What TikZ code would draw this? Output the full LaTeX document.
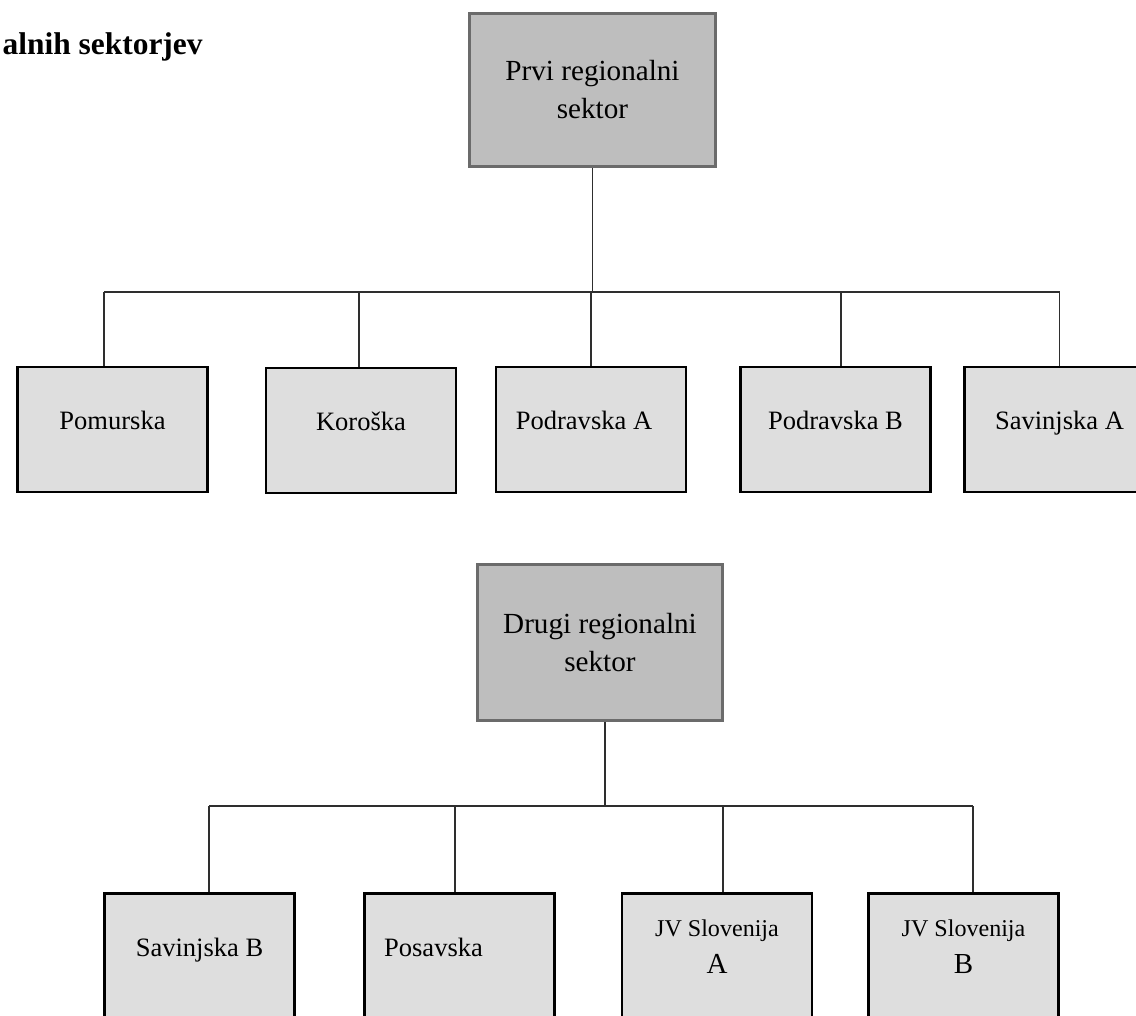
\documentclass[tikz,border=0pt]{standalone}
\usepackage{fontspec}
\setmainfont{Liberation Serif}
\definecolor{sectorfill}{HTML}{BEBEBE}
\definecolor{sectordraw}{HTML}{6B6B6B}
\definecolor{regionfill}{HTML}{DEDEDE}
\definecolor{wire}{HTML}{2E2E2E}
\def\pxu{0.02cm}
\tikzset{
    sector/.style={draw=sectordraw, fill=sectorfill, line width=1.5pt, align=center,
        font={\fontsize{16.6}{21.6}\selectfont}},
    region/.style={draw=black, fill=regionfill, line width=1.5pt,
        minimum width=3.8cm, minimum height=2.5cm,
        text height=0.2cm, text depth=0.2cm, font={\fontsize{15.1}{21}\selectfont}},
    wireline/.style={draw=wire, line width=0.75pt},
}
\begin{document}
\begin{tikzpicture}[x=0.02cm, y=-0.02cm]
    \useasboundingbox (0,0) rectangle (1136,1016);
    \clip (0,0) rectangle (1136,1016);
    \node[anchor=base east, inner sep=0pt, font={\bfseries\fontsize{17.9}{21}\selectfont}] (title) at (203,55) {alnih sektorjev};

    % prvi regionalni sektor
    \node[sector, minimum width=4.92cm, minimum height=3.06cm] (prvi) at (592.5,90) {Prvi regionalni\\sektor};
    \node[region] (pomurska) at (112.5,429.5) {Pomurska};
    \node[region] (koroska) at (361,430.5) {Koroška};
    \node[region] (podravskaA) at (591,429.5) {Podravska A\hspace*{0.28cm}};
    \node[region] (podravskaB) at (835.5,429.5) {Podravska B};
    \node[region] (savinjskaA) at (1059.5,429.5) {Savinjska A};
    \coordinate (bus1) at (592,292);
    \draw[wireline] (prvi.south) -- (prvi.south |- bus1);
    \draw[wireline] ([xshift=-8.5*\pxu]pomurska.north |- bus1) -- (savinjskaA.north |- bus1);
    \foreach \n/\dx in {pomurska/-8.5, koroska/-2, podravskaA/0, podravskaB/5.5, savinjskaA/0}
        \draw[wireline] ([xshift=\dx*\pxu]\n.north) -- ([xshift=\dx*\pxu]\n.north |- bus1);

    % drugi regionalni sektor
    \node[sector, minimum width=4.9cm, minimum height=3.12cm] (drugi) at (600,642.5) {Drugi regionalni\\sektor};
    \node[region] (savinjskaB) at (199.5,956) {Savinjska B};
    \node[region] (posavska) at (459.5,956) {Posavska\hspace*{1.04cm}};
    \node[region, align=center, text height=0.78cm, text depth=0.1cm] (jvA) at (717,956)
        {{\fontsize{13.7}{21}\selectfont JV Slovenija}\\{\fontsize{16.5}{21}\selectfont A}};
    \node[region, align=center, text height=0.78cm, text depth=0.1cm] (jvB) at (963.5,956)
        {{\fontsize{13.7}{21}\selectfont JV Slovenija}\\{\fontsize{16.5}{21}\selectfont B}};
    \coordinate (bus2) at (600,806);
    \draw[wireline] ([xshift=5*\pxu]drugi.south) -- ([xshift=5*\pxu]drugi.south |- bus2);
    \draw[wireline] ([xshift=9.5*\pxu]savinjskaB.north |- bus2) -- ([xshift=9.5*\pxu]jvB.north |- bus2);
    \foreach \n/\dx in {savinjskaB/9.5, posavska/-4.5, jvA/6, jvB/9.5}
        \draw[wireline] ([xshift=\dx*\pxu]\n.north) -- ([xshift=\dx*\pxu]\n.north |- bus2);
\end{tikzpicture}
\end{document}
